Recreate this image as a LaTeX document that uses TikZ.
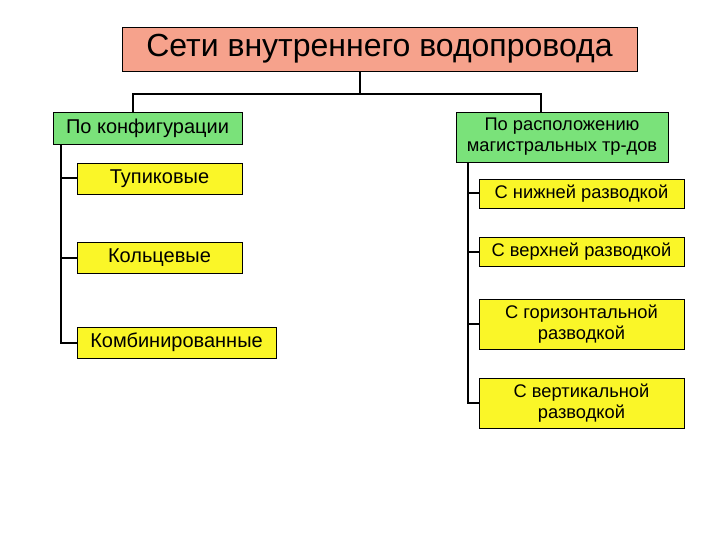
\documentclass[tikz,border=0pt]{standalone}
\usepackage{fontspec}
\setmainfont{Liberation Sans}
\usepackage{tikz}
\usetikzlibrary{positioning}
\definecolor{salmon}{RGB}{246,162,140}
\definecolor{leaf}{RGB}{122,226,122}
\definecolor{lemon}{RGB}{250,246,40}
\tikzset{
    header/.style={rectangle, draw, line width=0.8pt, fill=salmon, minimum width=515pt, minimum height=44pt, inner sep=0pt, font=\fontsize{32}{36}\selectfont},
    group/.style={rectangle, draw, line width=0.8pt, fill=leaf, minimum height=32pt, inner sep=0pt, align=center, font=\fontsize{18.3}{21}\selectfont},
    item/.style={rectangle, draw, line width=0.8pt, fill=lemon, minimum width=165pt, minimum height=31pt, inner sep=0pt, align=center, font=\fontsize{18.3}{21}\selectfont},
    big/.style={font=\fontsize{20}{23}\selectfont},
    link/.style={line width=2pt}
}

\begin{document}
\begin{tikzpicture}[x=1pt, y=-1pt]
            \useasboundingbox[fill=white] (0,0) rectangle (720,540);
            \node (title) [header] at (379.5,49) {Сети внутреннего водопровода};
            \node (conf) [group, big, minimum width=189pt] at (147.5,128) {По конфигурации};
            \node (place) [group, minimum width=212pt, minimum height=50pt] at (562,137) {По расположению\\магистральных тр-дов};

            \node (tup) [item, big] at (159.5,178.5) {Тупиковые};
            \node (kol) [item, big] at (159.5,257.5) {Кольцевые};
            \node (komb) [item, big, minimum width=199pt] at (176.5,342.5) {Комбинированные};

            \node (low) [item, minimum width=205pt, minimum height=29pt] at (581.5,193.5) {С нижней разводкой};
            \node (up) [item, minimum width=205pt, minimum height=29pt] at (581.5,251.5) {С верхней разводкой};
            \node (hor) [item, minimum width=205pt, minimum height=50pt] at (581.5,324) {С горизонтальной\\разводкой};
            \node (ver) [item, minimum width=205pt, minimum height=50pt] at (581.5,403) {С вертикальной\\разводкой};

            \coordinate (hub) at (360,94);
            \coordinate (lhub) at (133,94);
            \coordinate (rhub) at (541,94);
            \coordinate (ltrunk) at (61,0);
            \coordinate (rtrunk) at (468,0);

            \draw[link] (title.south -| hub) -- (hub);
            \draw[link] (conf.north -| lhub) -- (lhub) -- (rhub) -- (place.north -| rhub);
            \draw[link] (conf.south -| ltrunk) |- (komb.west);
            \draw[link] (tup.west -| ltrunk) -- (tup.west);
            \draw[link] (kol.west -| ltrunk) -- (kol.west);
            \draw[link] (place.south -| rtrunk) |- (ver.west);
            \draw[link] (low.west -| rtrunk) -- (low.west);
            \draw[link] (up.west -| rtrunk) -- (up.west);
            \draw[link] (hor.west -| rtrunk) -- (hor.west);
        \end{tikzpicture}
\end{document}
